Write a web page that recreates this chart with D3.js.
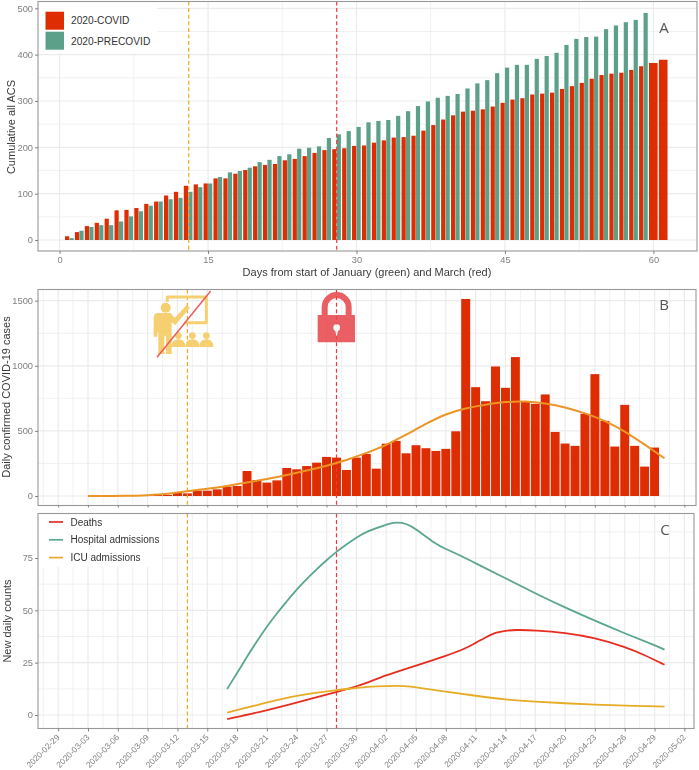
<!DOCTYPE html>
<html><head><meta charset="utf-8">
<script src="https://cdn.jsdelivr.net/npm/d3@7"></script>
<style>html,body{margin:0;padding:0;background:#fff}svg{display:block;filter:blur(.3px)}text{font-family:"Liberation Sans",Arial,sans-serif}</style>
</head><body><svg id="c" width="699" height="770"></svg>
<script>
const acsCovid=[8,17,30,37,46,64,65,69,78,83,96,104,117,120,122,133,133,143,151,159,162,164,172,175,181,188,194,196,198,203,204,210,215,221,222,225,236,248,260,269,277,279,282,288,296,303,306,314,316,318,326,332,339,348,356,359,361,367,375,382,389];
const acsPrecovid=[4,20,28,32,32,40,51,62,74,83,88,91,104,114,122,136,146,149,156,168,173,181,185,197,199,202,220,228,235,244,254,257,259,268,278,289,299,307,311,315,327,338,345,360,372,378,378,391,397,404,421,434,438,439,455,463,470,475,490];
const caseStart="2020-03-08";
const caseCounts=[1,2,8,8,26,20,41,41,51,72,77,192,123,103,120,215,205,230,256,300,295,200,295,323,210,402,423,328,390,367,346,362,497,1513,836,728,995,831,1067,726,708,780,492,403,385,631,936,577,380,700,385,226,372];
const smoothDates=["2020-03-03","2020-03-07","2020-03-09","2020-03-11","2020-03-13","2020-03-15","2020-03-17","2020-03-19","2020-03-21","2020-03-23","2020-03-25","2020-03-27","2020-03-29","2020-03-31","2020-04-02","2020-04-04","2020-04-06","2020-04-08","2020-04-10","2020-04-12","2020-04-14","2020-04-16","2020-04-18","2020-04-20","2020-04-22","2020-04-24","2020-04-26","2020-04-28","2020-04-30"];
const smoothCases=[0,0,6,15,38,55,76,103,130,160,195,232,275,330,390,470,555,632,675,702,724,729,713,683,636,580,498,395,290];
const hospDates=["2020-03-17","2020-03-18","2020-03-19","2020-03-20","2020-03-21","2020-03-22","2020-03-23","2020-03-24","2020-03-25","2020-03-26","2020-03-27","2020-03-28","2020-03-29","2020-03-30","2020-03-31","2020-04-02","2020-04-03","2020-04-04","2020-04-05","2020-04-07","2020-04-08","2020-04-09","2020-04-11","2020-04-14","2020-04-17","2020-04-20","2020-04-23","2020-04-26","2020-04-29","2020-04-30"];
const hospValues=[12.4,20,27.9,35.3,42.2,48.6,54.3,60,65,69.6,74,78,81.5,84.8,87.6,91,92.2,91.6,88.9,81.5,79.3,77.2,72.5,65.3,58.1,51.3,45,39,33.4,31.2];
const deathDates=["2020-03-17","2020-03-21","2020-03-24","2020-03-28","2020-03-30","2020-04-02","2020-04-05","2020-04-08","2020-04-10","2020-04-11","2020-04-12","2020-04-13","2020-04-14","2020-04-15","2020-04-17","2020-04-20","2020-04-23","2020-04-26","2020-04-28","2020-04-30"];
const deathValues=[-2,2.2,5.9,11.1,13.4,19.1,23.6,28.2,31.8,34.5,37,39.5,40.3,40.7,40.5,39.3,36.9,32.6,28.7,24];
const icuDates=["2020-03-17","2020-03-21","2020-03-24","2020-03-28","2020-03-30","2020-03-31","2020-04-02","2020-04-04","2020-04-05","2020-04-08","2020-04-11","2020-04-14","2020-04-17","2020-04-20","2020-04-23","2020-04-26","2020-04-30"];
const icuValues=[1.1,6,9.4,11.9,12.9,13.5,13.9,13.9,13.2,11.1,9.2,7.3,6.4,5.6,4.9,4.5,4];
const dateTicks=["2020-02-29","2020-03-03","2020-03-06","2020-03-09","2020-03-12","2020-03-15","2020-03-18","2020-03-21","2020-03-24","2020-03-27","2020-03-30","2020-04-02","2020-04-05","2020-04-08","2020-04-11","2020-04-14","2020-04-17","2020-04-20","2020-04-23","2020-04-26","2020-04-29","2020-05-02"];
const schoolClosure="2020-03-13", lockdown="2020-03-28";
const acsDayA=13.05, acsDayB=28;
const acsTicks=[0,15,30,45,60], acsY=[0,100,200,300,400,500], caseY=[0,500,1000,1500], countY=[0,25,50,75];
const legendA=["2020-COVID","2020-PRECOVID"], legendC=["Deaths","Hospital admissions","ICU admissions"];

const RED="#de2c03",GREEN="#5ca08a",ORANGE="#f5a623",VRED="#ee3a3f",HOSP="#5aa68e",DEATH="#e62d20",ICU="#e6ac26",SMOOTH="#ec9424";
const svg=d3.select("#c");
const P=d3.utcParse("%Y-%m-%d"), F=d3.utcFormat("%Y-%m-%d"), N=d3.format("d");
const xA=d3.scaleLinear().domain([-2.18,64.2]).range([38,695]);
const yA=d3.scaleLinear().domain([0,500]).range([240,8.3]);
const xT=d3.scaleUtc().domain([P("2020-02-27"),P("2020-05-03")]).range([38.3,694.3]);
const yB=d3.scaleLinear().domain([0,1500]).range([496,300.7]);
const yC=d3.scaleLinear().domain([0,75]).range([715,558]);
const panels={A:[38,1.5,697,251],B:[38,289.5,696,505.5],C:[38,513.5,694,728.5]};
function grid(p,xMaj,xMin,yMaj,yMin){
  const g=svg.append("g");
  const [l,t,r,b]=p;
  const v=(arr,w)=>g.selectAll(null).data(arr.filter(d=>d>l&&d<r)).join("line").attr("x1",d=>d).attr("x2",d=>d).attr("y1",t).attr("y2",b).attr("stroke","#ebebeb").attr("stroke-width",w);
  const h=(arr,w)=>g.selectAll(null).data(arr.filter(d=>d>t&&d<b)).join("line").attr("y1",d=>d).attr("y2",d=>d).attr("x1",l).attr("x2",r).attr("stroke","#ebebeb").attr("stroke-width",w);
  v(xMin,.7);h(yMin,.7);v(xMaj,1.2);h(yMaj,1.2);
}
function frame(p){svg.append("rect").attr("x",p[0]).attr("y",p[1]).attr("width",p[2]-p[0]).attr("height",p[3]-p[1]).attr("fill","none").attr("stroke","#989898").attr("stroke-width",1.1);}
function mids(scale,vals){const o=[];for(let i=0;i<vals.length-1;i++)o.push((scale(vals[i])+scale(vals[i+1]))/2);return o;}
function styleAxis(g){g.select(".domain").remove();g.selectAll("line").attr("stroke","#666").attr("stroke-width",.8);g.selectAll("text").attr("fill","#808080").attr("font-size",9.3).attr("font-family",'"Liberation Sans",Arial,sans-serif');}
function vline(x,p,c){svg.append("line").attr("x1",x).attr("x2",x).attr("y1",p[1]).attr("y2",p[3]).attr("stroke",c).attr("stroke-width",1.2).attr("stroke-dasharray","4 2.6");}
function title(t,x,y,rot){svg.append("text").text(t).attr("text-anchor","middle").attr("fill","#3a3a3a").attr("font-size",11).attr("transform",`translate(${x},${y})${rot?" rotate(-90)":""}`);}
function letter(t,x,y){svg.append("text").text(t).attr("x",x).attr("y",y).attr("fill","#555").attr("font-size",15).attr("text-anchor","middle").style("font-family",'"Open Sans",sans-serif');}

// ----- Panel A
let p=panels.A;
const xAMin=[7.5,22.5,37.5,52.5].map(d=>xA(d)),xAMaj=acsTicks.map(xA);
grid(p,xAMaj,xAMin,acsY.map(yA),mids(yA,acsY));
const dayW=xA(1)-xA(0), barW=dayW*.45;
svg.append("g").selectAll("rect").data(acsCovid).join("rect")
 .attr("x",(d,i)=>xA(i+1)-barW)
 .attr("width",(d,i)=>i<acsPrecovid.length?barW-.25:barW*2-.25).attr("y",d=>yA(d)).attr("height",d=>yA(0)-yA(d)).attr("fill",RED);
svg.append("g").selectAll("rect").data(acsPrecovid).join("rect")
 .attr("x",(d,i)=>xA(i+1)).attr("width",barW-.25).attr("y",d=>yA(d)).attr("height",d=>yA(0)-yA(d)).attr("fill",GREEN);
vline(xA(acsDayA),p,ORANGE);vline(xA(acsDayB),p,VRED);
svg.append("rect").attr("x",39).attr("y",2).attr("width",118).attr("height",51).attr("fill","#fff");
legendA.forEach((t,i)=>{
  svg.append("rect").attr("x",45.5).attr("y",11.7+i*20).attr("width",18.5).attr("height",18).attr("fill",i?GREEN:RED);
  svg.append("text").text(t).attr("x",71).attr("y",24.4+i*20.2).attr("font-size",10.2).attr("fill","#333");
});
frame(p);
svg.append("g").attr("transform",`translate(38,0)`).call(d3.axisLeft(yA).tickValues(acsY).tickFormat(N).tickSize(3).tickPadding(2)).call(styleAxis);
svg.append("g").attr("transform",`translate(0,251)`).call(d3.axisBottom(xA).tickValues(acsTicks).tickFormat(N).tickSize(3).tickPadding(2)).call(styleAxis);
title("Cumulative all ACS",14.5,127,true);
title("Days from start of January (green) and March (red)",367,276,false);
letter("A",664,33);

// ----- Panel B
p=panels.B;
const tickD=dateTicks.map(P);
const xMaj=tickD.map(xT), xMin=mids(xT,tickD).concat([xT(tickD[0])-(xT(tickD[1])-xT(tickD[0]))/2]);
grid(p,xMaj,xMin,caseY.map(yB),mids(yB,caseY));
const day=xT(P("2020-03-04"))-xT(P("2020-03-03"));
const caseDate=i=>d3.utcDay.offset(P(caseStart),i);
svg.append("g").selectAll("rect").data(caseCounts).join("rect")
 .attr("x",(d,i)=>xT(caseDate(i))-day*.45).attr("width",day*.9).attr("y",d=>yB(d)).attr("height",d=>yB(0)-yB(d)).attr("fill",RED);
vline(xT(P(schoolClosure)),p,ORANGE);vline(xT(P(lockdown)),p,VRED);
svg.append("path").datum(smoothCases).attr("fill","none").attr("stroke",SMOOTH).attr("stroke-width",2)
 .attr("d",d3.line().x((d,i)=>xT(P(smoothDates[i]))).y(d=>yB(d)).curve(d3.curveBasis));
// school-closure icon
const ic=svg.append("g").attr("transform","translate(145,285) scale(.3333)").attr("fill","#f6cf70");
ic.append("path").attr("d","M67 50 V36 H184 V113 H118").attr("fill","none").attr("stroke","#f6cf70").attr("stroke-width",9).attr("stroke-linejoin","round");
ic.append("circle").attr("cx",62).attr("cy",68).attr("r",15);
ic.append("path").attr("d","M40 84 H76 L89 98 L125 60 L135 68 L91 120 L80 112 V207 H63 V152 H58 V207 H40 V142 H37 V155 H26 V100 Q26 84 40 84Z");
[100,142,184].forEach(cx=>{ic.append("circle").attr("cx",cx).attr("cy",152).attr("r",10);ic.append("path").attr("d",`M${cx-21} 186 Q${cx-21} 163 ${cx} 163 Q${cx+21} 163 ${cx+21} 186Z`);});
ic.append("line").attr("x1",36).attr("y1",217).attr("x2",197).attr("y2",18).attr("stroke","#ea5c5c").attr("stroke-width",4.5);
// lock icon
const lk=svg.append("g").attr("transform","translate(305,285) scale(.3333)").attr("opacity",.88);
lk.append("path").attr("d","M59 92 V66 A36 36 0 0 1 131 66 V92").attr("fill","none").attr("stroke","#e8494f").attr("stroke-width",18);
lk.append("rect").attr("x",38).attr("y",90).attr("width",112).attr("height",82).attr("rx",2).attr("fill","#e8494f");
lk.append("circle").attr("cx",95).attr("cy",128).attr("r",10).attr("fill","#fff");
lk.append("path").attr("d","M90 132 H100 L96 152 H94Z").attr("fill","#fff");
frame(p);
svg.append("g").attr("transform",`translate(38,0)`).call(d3.axisLeft(yB).tickValues(caseY).tickFormat(N).tickSize(3).tickPadding(2)).call(styleAxis);
svg.append("g").attr("transform",`translate(0,505.5)`).call(d3.axisBottom(xT).tickValues(tickD).tickSize(2).tickFormat("")).call(styleAxis);
title("Daily confirmed COVID-19 cases",9.5,397,true);
letter("B",664,310);

// ----- Panel C
p=panels.C;
grid(p,xMaj,xMin,countY.map(yC),mids(yC,countY.concat([100])).concat([yC(-12.5)]));
vline(xT(P(schoolClosure)),p,ORANGE);vline(xT(P(lockdown)),p,VRED);
const ln=(dates,vals,c)=>svg.append("path").datum(vals).attr("fill","none").attr("stroke",c).attr("stroke-width",1.8)
 .attr("d",d3.line().x((d,i)=>xT(P(dates[i]))).y(d=>yC(d)).curve(d3.curveBasis));
ln(hospDates,hospValues,HOSP);ln(deathDates,deathValues,DEATH);ln(icuDates,icuValues,ICU);
svg.append("rect").attr("x",39).attr("y",514).attr("width",123).attr("height",53).attr("fill","#fff");
legendC.forEach((t,i)=>{
  svg.append("line").attr("x1",49).attr("x2",63).attr("y1",522+i*17.8).attr("y2",522+i*17.8).attr("stroke",[DEATH,HOSP,ICU][i]).attr("stroke-width",1.7);
  svg.append("text").text(t).attr("x",70.5).attr("y",525.5+i*17.8).attr("font-size",10).attr("fill","#333");
});
frame(p);
svg.append("g").attr("transform",`translate(38,0)`).call(d3.axisLeft(yC).tickValues(countY).tickFormat(N).tickSize(3).tickPadding(2)).call(styleAxis);
const ax=svg.append("g").attr("transform",`translate(0,728.5)`).call(d3.axisBottom(xT).tickValues(tickD).tickSize(3).tickFormat(F)).call(styleAxis);
ax.selectAll("text").attr("text-anchor","end").attr("font-size",8.4).attr("dx",0).attr("dy",0).attr("y",0).attr("x",0).attr("transform","translate(1.5,9.5) rotate(-45)");
title("New daily counts",10.5,621,true);
letter("C",665,535);
</script></body></html>
